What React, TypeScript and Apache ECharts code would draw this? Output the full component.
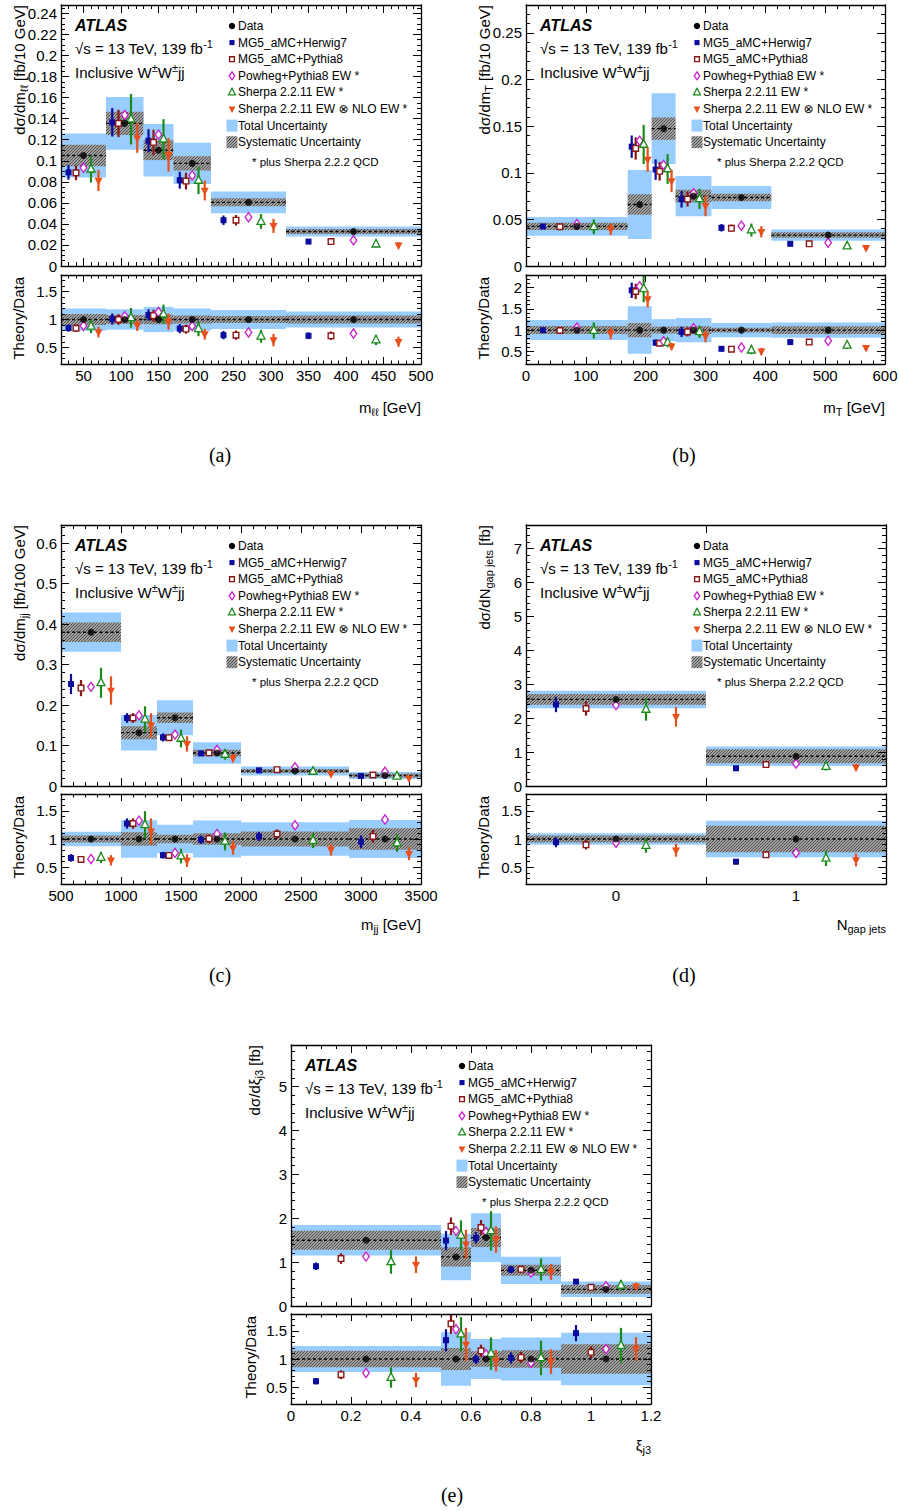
import React, { useEffect, useRef } from "react";
import * as echarts from "echarts";

type Pair = [number, number];

// ================= (a) m_ll =================
const mllEdges = [20, 80, 130, 170, 220, 320, 500];
const mllData = [0.105, 0.1355, 0.11, 0.0975, 0.0605, 0.0328];
const mllTot = [0.021, 0.025, 0.025, 0.0195, 0.0103, 0.0047];
const mllSys = [0.0103, 0.011, 0.0094, 0.0068, 0.0038, 0.0024];
const mllH7: Pair[] = [[0.089, 0.007], [0.1365, 0.0135], [0.119, 0.011], [0.0815, 0.008], [0.0435, 0.0045], [0.0232, 0.002]];
const mllP8: Pair[] = [[0.0885, 0.007], [0.1355, 0.013], [0.1175, 0.012], [0.0807, 0.008], [0.0435, 0.005], [0.0232, 0.0025]];
const mllPW: Pair[] = [[0.0933, 0], [0.1435, 0], [0.1248, 0], [0.0861, 0], [0.0464, 0], [0.0245, 0]];
const mllSH: Pair[] = [[0.092, 0.0127], [0.1395, 0.024], [0.1205, 0.019], [0.0813, 0.013], [0.0423, 0.007], [0.0207, 0.003]];
const mllNLO: Pair[] = [[0.0813, 0.01], [0.1216, 0.014], [0.1057, 0.016], [0.0718, 0.0095], [0.0381, 0.0067], [0.0197, 0.003]];
const mllXTicks = [50, 100, 150, 200, 250, 300, 350, 400, 450, 500];
const mllYTicks = [0, 0.02, 0.04, 0.06, 0.08, 0.1, 0.12, 0.14, 0.16, 0.18, 0.2, 0.22, 0.24];

// ================= (b) m_T =================
const mtEdges = [0, 170, 210, 250, 310, 410, 600];
const mtData = [0.0425, 0.066, 0.1474, 0.075, 0.0735, 0.0332];
const mtTot = [0.01, 0.037, 0.038, 0.0216, 0.0124, 0.006];
const mtSys = [0.004, 0.011, 0.012, 0.0067, 0.004, 0.003];
const mtH7: Pair[] = [[0.0424, 0.002], [0.128, 0.012], [0.1034, 0.011], [0.0717, 0.009], [0.041, 0.004], [0.0238, 0.002]];
const mtP8: Pair[] = [[0.0421, 0.002], [0.1261, 0.012], [0.1016, 0.01], [0.0717, 0.008], [0.0404, 0.004], [0.0238, 0.002]];
const mtPW: Pair[] = [[0.045, 0], [0.1344, 0], [0.1085, 0], [0.0782, 0], [0.0432, 0], [0.0249, 0]];
const mtSH: Pair[] = [[0.0421, 0.008], [0.1304, 0.021], [0.1041, 0.016], [0.072, 0.011], [0.0386, 0.007], [0.0213, 0.003]];
const mtNLO: Pair[] = [[0.0393, 0.006], [0.1142, 0.013], [0.0912, 0.012], [0.0645, 0.011], [0.0367, 0.006], [0.0194, 0.002]];
const mtXTicks = [0, 100, 200, 300, 400, 500, 600];
const mtYTicks = [0, 0.05, 0.1, 0.15, 0.2, 0.25];

// ================= (c) m_jj =================
const mjjEdges = [500, 1000, 1300, 1600, 2000, 2900, 3500];
const mjjData = [0.38, 0.1317, 0.1687, 0.0815, 0.037, 0.026];
const mjjTot = [0.0485, 0.044, 0.043, 0.0267, 0.011, 0.0088];
const mjjSys = [0.024, 0.016, 0.0128, 0.0082, 0.005, 0.005];
const mjjH7: Pair[] = [[0.252, 0.025], [0.168, 0.012], [0.12, 0.01], [0.0805, 0.006], [0.0387, 0.003], [0.0247, 0.003]];
const mjjP8: Pair[] = [[0.242, 0.02], [0.168, 0.012], [0.1195, 0.008], [0.082, 0.006], [0.0403, 0.003], [0.0272, 0.003]];
const mjjPW: Pair[] = [[0.245, 0], [0.1745, 0], [0.127, 0], [0.0888, 0], [0.0461, 0], [0.035, 0]];
const mjjSH: Pair[] = [[0.255, 0.037], [0.165, 0.032], [0.1175, 0.022], [0.078, 0.013], [0.036, 0.005], [0.0241, 0.004]];
const mjjNLO: Pair[] = [[0.236, 0.035], [0.15, 0.03], [0.104, 0.019], [0.0685, 0.01], [0.03, 0.004], [0.0192, 0.003]];
const mjjXTicks = [500, 1000, 1500, 2000, 2500, 3000, 3500];
const mjjYTicks = [0, 0.1, 0.2, 0.3, 0.4, 0.5, 0.6];

// ================= (d) N_gap jets =================
const ngEdges = [-0.5, 0.5, 1.5];
const ngData = [2.553, 0.877];
const ngTot = [0.257, 0.286];
const ngSys = [0.158, 0.207];
const ngH7: Pair[] = [[2.406, 0.227], [0.523, 0.04]];
const ngP8: Pair[] = [[2.287, 0.21], [0.631, 0.05]];
const ngPW: Pair[] = [[2.386, 0], [0.66, 0]];
const ngSH: Pair[] = [[2.258, 0.33], [0.575, 0.12]];
const ngNLO: Pair[] = [[2.041, 0.29], [0.55, 0.1]];
const ngXTicks = [0.5];
const ngXLabels = [0, 1];
const ngYTicks = [0, 1, 2, 3, 4, 5, 6, 7];

// ================= (e) xi_j3 =================
const xiEdges = [0, 0.5, 0.6, 0.7, 0.9, 1.2];
const xiData = [1.499, 1.119, 1.56, 0.814, 0.381];
const xiTot = [0.346, 0.53, 0.555, 0.31, 0.177];
const xiSys = [0.217, 0.22, 0.217, 0.125, 0.1];
const xiH7: Pair[] = [[0.906, 0.085], [1.492, 0.22], [1.553, 0.13], [0.83, 0.08], [0.556, 0.055]];
const xiP8: Pair[] = [[1.081, 0.12], [1.819, 0.2], [1.788, 0.17], [0.837, 0.08], [0.426, 0.04]];
const xiPW: Pair[] = [[1.126, 0], [1.712, 0], [1.69, 0], [0.761, 0], [0.449, 0]];
const xiSH: Pair[] = [[1.005, 0.27], [1.613, 0.34], [1.712, 0.45], [0.83, 0.25], [0.472, 0.12]];
const xiNLO: Pair[] = [[0.94, 0.19], [1.408, 0.33], [1.514, 0.3], [0.776, 0.18], [0.449, 0.08]];
const xiXTicks = [0, 0.2, 0.4, 0.6, 0.8, 1, 1.2];
const xiYTicks = [0, 1, 2, 3, 4, 5];

// ratio axes
const ratioYTicks = [0.5, 1, 1.5];
const mtRatioYTicks = [0.5, 1, 1.5, 2];

const modelNames = [
  "MG5_aMC+Herwig7",
  "MG5_aMC+Pythia8",
  "Powheg+Pythia8 EW *",
  "Sherpa 2.2.11 EW *",
  "Sherpa 2.2.11 EW \u2297 NLO EW *",
];

// ---------------- styles ----------------
const FONT = '"Liberation Sans", "DejaVu Sans", Arial, sans-serif';
const SERIF = '"Liberation Serif", "DejaVu Serif", serif';
const MODEL_COLORS = ["#0b0b9e", "#8b1616", "#c81ec8", "#1a8a1a", "#e84f1b"];
const C_TOT = "#99ccff";

const panels = [
  {
    edges: mllEdges, data: mllData, tot: mllTot, sys: mllSys, models: [mllH7, mllP8, mllPW, mllSH, mllNLO],
    x: { min: 20, max: 500, minor: 10, ticks: mllXTicks, labels: mllXTicks },
    y: { min: 0, max: 0.248, minor: 0.005, ticks: mllYTicks, labels: mllYTicks },
    r: { min: 0.2, max: 1.8, minor: 0.1, ticks: ratioYTicks, labels: ratioYTicks },
    yTitle: "d\u03c3/dm{sub|\u2113\u2113} [fb/10 GeV]", xTitle: "m{sub|\u2113\u2113} [GeV]", caption: "(a)",
    lay: { L: 61, W: 360, T: 5, H: 261, RT: 275, RH: 89, tx: 19, rtx: 18, xty: 407, cx: 220, cy: 455 },
  },
  {
    edges: mtEdges, data: mtData, tot: mtTot, sys: mtSys, models: [mtH7, mtP8, mtPW, mtSH, mtNLO],
    x: { min: 0, max: 600, minor: 20, ticks: mtXTicks, labels: mtXTicks },
    y: { min: 0, max: 0.28, minor: 0.01, ticks: mtYTicks, labels: mtYTicks },
    r: { min: 0.2, max: 2.3, minor: 0.1, ticks: mtRatioYTicks, labels: mtRatioYTicks },
    yTitle: "d\u03c3/dm{sub|T} [fb/10 GeV]", xTitle: "m{sub|T} [GeV]", caption: "(b)",
    lay: { L: 526, W: 359, T: 5, H: 261, RT: 275, RH: 89, tx: 484, rtx: 483, xty: 407, cx: 684, cy: 455 },
  },
  {
    edges: mjjEdges, data: mjjData, tot: mjjTot, sys: mjjSys, models: [mjjH7, mjjP8, mjjPW, mjjSH, mjjNLO],
    x: { min: 500, max: 3500, minor: 100, ticks: mjjXTicks, labels: mjjXTicks },
    y: { min: 0, max: 0.645, minor: 0.02, ticks: mjjYTicks, labels: mjjYTicks },
    r: { min: 0.2, max: 1.8, minor: 0.1, ticks: ratioYTicks, labels: ratioYTicks },
    yTitle: "d\u03c3/dm{sub|jj} [fb/100 GeV]", xTitle: "m{sub|jj} [GeV]", caption: "(c)",
    lay: { L: 61, W: 360, T: 525, H: 261, RT: 794, RH: 90, tx: 19, rtx: 18, xty: 924, cx: 220, cy: 975 },
  },
  {
    edges: ngEdges, data: ngData, tot: ngTot, sys: ngSys, models: [ngH7, ngP8, ngPW, ngSH, ngNLO],
    x: { min: -0.5, max: 1.5, minor: 0, step: 0.5, ticks: ngXTicks, labels: ngXLabels },
    y: { min: 0, max: 7.7, minor: 0.2, ticks: ngYTicks, labels: ngYTicks },
    r: { min: 0.2, max: 1.8, minor: 0.1, ticks: ratioYTicks, labels: ratioYTicks },
    yTitle: "d\u03c3/dN{sub|gap jets} [fb]", xTitle: "N{sub|gap jets}", caption: "(d)",
    lay: { L: 526, W: 360, T: 525, H: 261, RT: 794, RH: 90, tx: 484, rtx: 483, xty: 924, cx: 684, cy: 975 },
  },
  {
    edges: xiEdges, data: xiData, tot: xiTot, sys: xiSys, models: [xiH7, xiP8, xiPW, xiSH, xiNLO],
    x: { min: 0, max: 1.2, minor: 0.05, ticks: xiXTicks, labels: xiXTicks },
    y: { min: 0, max: 5.95, minor: 0.2, ticks: xiYTicks, labels: xiYTicks },
    r: { min: 0.2, max: 1.8, minor: 0.1, ticks: ratioYTicks, labels: ratioYTicks },
    yTitle: "d\u03c3/d\u03be{sub|j3} [fb]", xTitle: "\u03be{sub|j3}", caption: "(e)",
    lay: { L: 291, W: 360, T: 1045, H: 261, RT: 1314, RH: 90, tx: 254, rtx: 250, xty: 1445, cx: 452, cy: 1495 },
  },
];

function makeHatch() {
  const c = document.createElement("canvas");
  c.width = 3;
  c.height = 3;
  const g = c.getContext("2d")!;
  g.fillStyle = "#a2a2a2";
  g.fillRect(0, 0, 3, 3);
  g.strokeStyle = "#444444";
  g.lineWidth = 0.9;
  g.beginPath();
  g.moveTo(-1, 4); g.lineTo(4, -1);
  g.moveTo(-1, 1); g.lineTo(1, -1);
  g.moveTo(2, 4); g.lineTo(4, 2);
  g.stroke();
  return { image: c, repeat: "repeat", imageWidth: 3, imageHeight: 3 };
}

function richFor(fs: number) {
  const s = Math.round(fs * 0.7);
  return {
    sub: { fontSize: s, fontFamily: FONT, verticalAlign: "bottom", lineHeight: s },
    sup: { fontSize: s, fontFamily: FONT, verticalAlign: "top", lineHeight: s },
  };
}

function txt(x: number, y: number, s: string, o: any = {}) {
  const fs = o.fontSize || 15;
  return {
    type: "text", x, y, rotation: o.rotation || 0, z: 100, silent: true,
    style: {
      text: s, fontSize: fs, fontFamily: o.fontFamily || FONT, fontWeight: o.fontWeight || "normal",
      fontStyle: o.fontStyle || "normal", fill: "#000", align: o.align || "left",
      verticalAlign: o.verticalAlign || "middle", lineHeight: Math.round(fs * 1.35), rich: richFor(fs),
    },
  };
}

function marker(m: number, cx: number, cy: number, s = 1): any {
  const c = MODEL_COLORS[m];
  switch (m) {
    case 0:
      return { type: "rect", shape: { x: cx - 3 * s, y: cy - 3 * s, width: 6 * s, height: 6 * s }, style: { fill: c } };
    case 1:
      return { type: "rect", shape: { x: cx - 2.8 * s, y: cy - 2.8 * s, width: 5.6 * s, height: 5.6 * s }, style: { fill: "#fff", stroke: c, lineWidth: 1.4 } };
    case 2:
      return { type: "polygon", shape: { points: [[cx, cy - 4.6 * s], [cx + 3.3 * s, cy], [cx, cy + 4.6 * s], [cx - 3.3 * s, cy]] }, style: { fill: "#fff", stroke: c, lineWidth: 1.3 } };
    case 3:
      return { type: "polygon", shape: { points: [[cx, cy - 4.8 * s], [cx + 4 * s, cy + 2.8 * s], [cx - 4 * s, cy + 2.8 * s]] }, style: { fill: "#fff", stroke: c, lineWidth: 1.3 } };
    default:
      return { type: "polygon", shape: { points: [[cx - 4 * s, cy - 2.8 * s], [cx + 4 * s, cy - 2.8 * s], [cx, cy + 4.8 * s]] }, style: { fill: c } };
  }
}

function addAxis(list: any[], gridIndex: number, spec: any, position: string, showLabels: boolean, len: number) {
  const idx = list.length;
  const step = spec.minor || spec.step;
  const common = {
    type: "value", gridIndex, position, min: spec.min, max: spec.max, interval: step,
    splitLine: { show: false }, minorTick: { show: false }, minorSplitLine: { show: false }, silent: true, z: 10,
  };
  list.push({
    ...common,
    axisLine: { show: true, onZero: false, lineStyle: { color: "#000", width: 1.3 } },
    axisTick: { show: true, inside: true, length: len, customValues: spec.ticks, lineStyle: { color: "#000", width: 1 } },
    axisLabel: {
      show: showLabels, customValues: spec.labels, formatter: (v: number) => String(v),
      fontSize: 15, fontFamily: FONT, color: "#000", margin: 4,
    },
  });
  if (spec.minor) {
    list.push({
      ...common,
      axisLine: { show: false, onZero: false },
      axisTick: { show: true, inside: true, length: len / 2, lineStyle: { color: "#000", width: 1 } },
      axisLabel: { show: false },
    });
  }
  return idx;
}

function buildOption(hatch: any) {
  const grid: any[] = [];
  const xAxis: any[] = [];
  const yAxis: any[] = [];
  const series: any[] = [];
  const graphic: any[] = [];

  const bandRender = (params: any, api: any) => {
    const lo = api.value(0), hi = api.value(1), v = api.value(2), t = api.value(3), s = api.value(4);
    const a = api.coord([lo, v + t]), b = api.coord([hi, v - t]);
    const c = api.coord([lo, v + s]), d = api.coord([hi, v - s]);
    const e = api.coord([lo, v]), f = api.coord([hi, v]);
    return {
      type: "group",
      children: [
        { type: "rect", shape: { x: a[0], y: a[1], width: b[0] - a[0], height: b[1] - a[1] }, style: { fill: C_TOT } },
        { type: "rect", shape: { x: c[0], y: c[1], width: d[0] - c[0], height: d[1] - c[1] }, style: { fill: hatch } },
        { type: "line", shape: { x1: e[0], y1: e[1], x2: f[0], y2: f[1] }, style: { stroke: "#000", lineWidth: 1.3, lineDash: [3, 2.5] } },
      ],
    };
  };
  const theoryRender = (params: any, api: any) => {
    const x = api.value(0), y = api.value(1), err = api.value(2), m = api.value(3);
    const p = api.coord([x, y]);
    const children: any[] = [];
    if (err > 0) {
      const t = api.coord([x, y + err]), b = api.coord([x, y - err]);
      children.push({ type: "line", shape: { x1: p[0], y1: t[1], x2: p[0], y2: b[1] }, style: { stroke: MODEL_COLORS[m], lineWidth: 2.2 } });
    }
    children.push(marker(m, p[0], p[1]));
    return { type: "group", children };
  };

  panels.forEach((p) => {
    const { L, W, T, H, RT, RH } = p.lay;
    const gi = grid.length;
    grid.push({ left: L, top: T, width: W, height: H, containLabel: false, outerBoundsMode: "none" });
    grid.push({ left: L, top: RT, width: W, height: RH, containLabel: false, outerBoundsMode: "none" });

    const xm = addAxis(xAxis, gi, p.x, "bottom", false, 8);
    addAxis(xAxis, gi, p.x, "top", false, 8);
    const ym = addAxis(yAxis, gi, p.y, "left", true, 8);
    addAxis(yAxis, gi, p.y, "right", false, 8);
    const xr = addAxis(xAxis, gi + 1, p.x, "bottom", true, 7);
    addAxis(xAxis, gi + 1, p.x, "top", false, 7);
    const yr = addAxis(yAxis, gi + 1, p.r, "left", true, 8);
    addAxis(yAxis, gi + 1, p.r, "right", false, 8);

    const nb = p.data.length;
    const bandsMain: number[][] = [];
    const bandsRatio: number[][] = [];
    const thMain: number[][] = [];
    const thRatio: number[][] = [];
    const dMain: number[][] = [];
    const dRatio: number[][] = [];
    for (let i = 0; i < nb; i++) {
      const lo = p.edges[i], hi = p.edges[i + 1], w = hi - lo;
      const dv = p.data[i];
      bandsMain.push([lo, hi, dv, p.tot[i], p.sys[i]]);
      bandsRatio.push([lo, hi, 1, p.tot[i] / dv, p.sys[i] / dv]);
      dMain.push([lo + w / 2, dv]);
      dRatio.push([lo + w / 2, 1]);
      p.models.forEach((arr, m) => {
        const [v, e] = arr[i];
        const x = lo + (w * (m + 1)) / 6;
        thMain.push([x, v, e, m]);
        thRatio.push([x, v / dv, e / dv, m]);
      });
    }
    const mk = (xi: number, yi: number, bands: any, th: any, d: any) => {
      series.push({ type: "custom", coordinateSystem: "cartesian2d", xAxisIndex: xi, yAxisIndex: yi, clip: true, z: 2, silent: true, data: bands, renderItem: bandRender });
      series.push({ type: "custom", coordinateSystem: "cartesian2d", xAxisIndex: xi, yAxisIndex: yi, clip: true, z: 3, silent: true, data: th, renderItem: theoryRender });
      series.push({ type: "scatter", xAxisIndex: xi, yAxisIndex: yi, z: 4, silent: true, data: d, symbol: "circle", symbolSize: 7, itemStyle: { color: "#000" } });
    };
    mk(xm, ym, bandsMain, thMain, dMain);
    mk(xr, yr, bandsRatio, thRatio, dRatio);

    // ---- texts ----
    graphic.push(txt(L + 14, T + 20, "ATLAS", { fontSize: 16, fontWeight: "bold", fontStyle: "italic" }));
    graphic.push(txt(L + 14, T + 43, "\u221as = 13 TeV, 139 fb{sup|-1}", { fontSize: 15 }));
    graphic.push(txt(L + 14, T + 67, "Inclusive W{sup|\u00b1}W{sup|\u00b1}jj", { fontSize: 15 }));

    const lx = L + 171, tx = L + 177;
    const rows = ["Data", ...modelNames, "Total Uncertainty", "Systematic Uncertainty"];
    rows.forEach((name, i) => {
      const y = T + 21 + i * 16.6;
      if (i === 0) graphic.push({ type: "circle", z: 100, silent: true, shape: { cx: lx, cy: y, r: 3.2 }, style: { fill: "#000" } });
      else if (i <= 5) graphic.push({ ...marker(i - 1, lx, y, 0.85), z: 100, silent: true });
      else if (i === 6) graphic.push({ type: "rect", z: 100, silent: true, shape: { x: lx - 5.5, y: y - 6, width: 11, height: 12 }, style: { fill: C_TOT } });
      else graphic.push({ type: "rect", z: 100, silent: true, shape: { x: lx - 5.5, y: y - 6, width: 11, height: 12 }, style: { fill: hatch } });
      graphic.push(txt(tx, y, name, { fontSize: 12 }));
    });
    graphic.push(txt(L + 191, T + 157, "* plus Sherpa 2.2.2 QCD", { fontSize: 11.5 }));

    graphic.push(txt(p.lay.tx, T, p.yTitle, { rotation: Math.PI / 2, align: "right", fontSize: 15 }));
    graphic.push(txt(p.lay.rtx, RT + 2, "Theory/Data", { rotation: Math.PI / 2, align: "right", fontSize: 15 }));
    graphic.push(txt(L + W, p.lay.xty, p.xTitle, { align: "right", fontSize: 15 }));
    graphic.push(txt(p.lay.cx, p.lay.cy, p.caption, { align: "center", fontSize: 20, fontFamily: SERIF }));
  });

  return {
    animation: false,
    backgroundColor: "#fff",
    grid,
    xAxis,
    yAxis,
    series,
    graphic: { elements: graphic },
  };
}

export default function App() {
  const ref = useRef<HTMLDivElement>(null);
  useEffect(() => {
    const el = ref.current!;
    const chart = echarts.init(el, undefined, { renderer: "svg", width: 901, height: 1511 });
    chart.setOption(buildOption(makeHatch()) as any);
    return () => chart.dispose();
  }, []);
  return (
    <div
      ref={ref}
      style={{ position: "fixed", left: 0, top: 0, width: 901, height: 1511, background: "#fff" }}
    />
  );
}
